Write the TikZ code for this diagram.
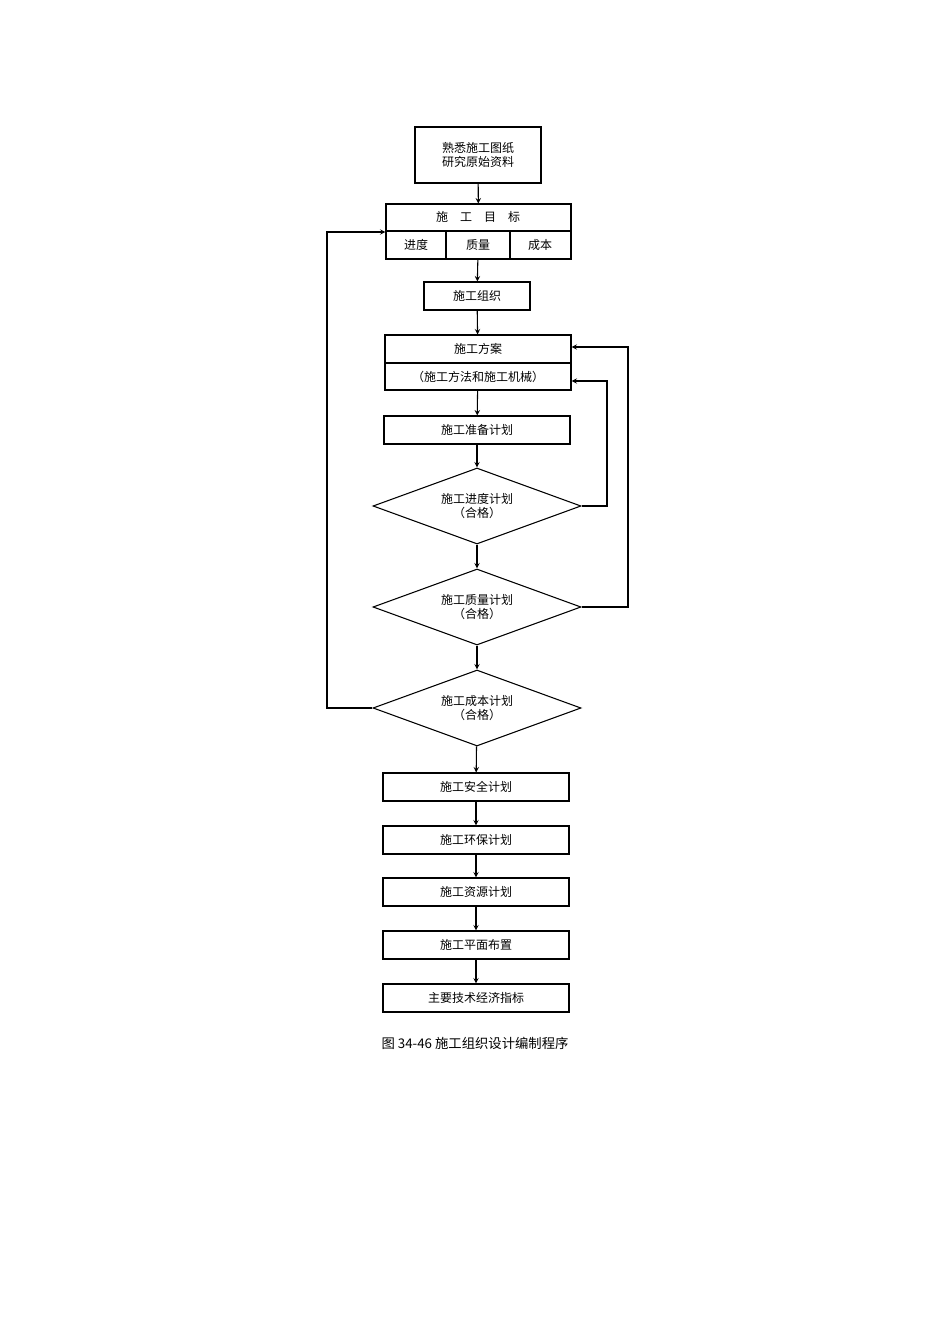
\documentclass[tikz,border=0pt]{standalone}
\usepackage{fontspec}
\setmainfont{Noto Sans CJK SC}
\usetikzlibrary{shapes.geometric}
\tikzset{
  box/.style={draw, thick, minimum width=186\px, minimum height=28\px, inner sep=0pt, font=\small},
  decide/.style={draw, thick, diamond, aspect=2.74, minimum width=208\px, minimum height=76\px, inner sep=0pt, align=center, font=\small},
  flow/.style={->, >=stealth, thick}
}
\newlength{\px}\setlength{\px}{0.75pt}
\begin{document}
\begin{tikzpicture}[x=\px, y=-\px]
\useasboundingbox (0,0) rectangle (950,1344);

\node[box, minimum width=126\px, minimum height=56\px, align=center] (study) at (478,155) {熟悉施工图纸\\研究原始资料};

\node[box, minimum width=185\px, minimum height=55\px] (goal) at (478.5,231.5) {};
\draw[thick] (386,231) -- (571,231) (446,231) -- (446,259) (510,231) -- (510,259);
\node[font=\small] (goalt) at (478,217) {施\quad 工\quad 目\quad 标};
\node[font=\small] (g1) at (416,245) {进度};
\node[font=\small] (g2) at (478,245) {质量};
\node[font=\small] (g3) at (540,245) {成本};

\node[box, minimum width=106\px] (org) at (477,296) {施工组织};

\node[box, minimum height=55\px] (plan) at (478,362.5) {};
\draw[thick] (385,363) -- (571,363);
\node[font=\small] (plant) at (478,349) {施工方案};
\node[font=\small] (plans) at (478,377) {（施工方法和施工机械）};

\node[box] (prep) at (477,430) {施工准备计划};
\node[decide] (sched) at (477,506) {施工进度计划\\（合格）};
\node[decide] (qual) at (477,607) {施工质量计划\\（合格）};
\node[decide] (cost) at (477,708) {施工成本计划\\（合格）};
\node[box] (safe) at (476,787) {施工安全计划};
\node[box] (env) at (476,840) {施工环保计划};
\node[box] (res) at (476,892) {施工资源计划};
\node[box] (site) at (476,945) {施工平面布置};
\node[box] (eco) at (476,998) {主要技术经济指标};

\node (cap) at (475,1043) {图 34-46 施工组织设计编制程序};

\draw[flow] (study) -- (goal);
\draw[flow] (goal) -- (org);
\draw[flow] (org) -- (plan);
\draw[flow] (plan) -- (prep);
\draw[flow] (prep) -- (sched);
\draw[flow] (sched) -- (qual);
\draw[flow] (qual) -- (cost);
\draw[flow] (cost) -- (safe);
\draw[flow] (safe) -- (env);
\draw[flow] (env) -- (res);
\draw[flow] (res) -- (site);
\draw[flow] (site) -- (eco);

\draw[flow] (sched.east) -| (607,381) -- (plan.east |- 0,381);
\draw[flow] (qual.east) -| (628,347) -- (plan.east |- 0,347);
\draw[flow] (cost.west) -| (327,232) -- (goal.west |- 0,232);
\end{tikzpicture}
\end{document}
